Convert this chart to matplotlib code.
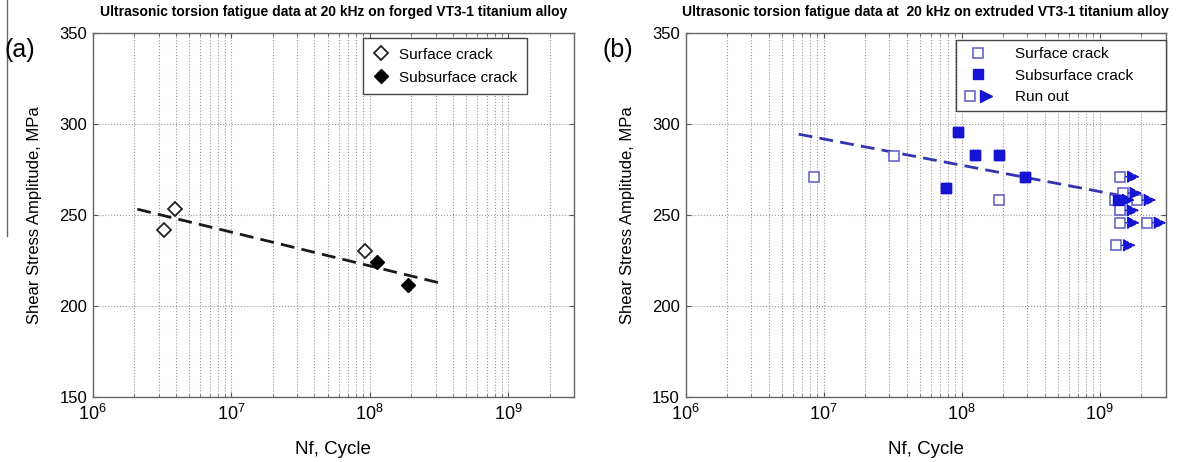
import matplotlib
matplotlib.use("Agg")
import matplotlib.pyplot as plt
from matplotlib.ticker import LogLocator, FixedLocator, NullFormatter
from matplotlib.lines import Line2D
from matplotlib.legend_handler import HandlerTuple

plt.rcParams['font.family'] = ['Liberation Sans', 'DejaVu Sans']
plt.rcParams['mathtext.default'] = 'regular'

# ---------------- data ----------------
# (a) forged
a_surface_N = [3.3e6, 3.95e6, 9.2e7]
a_surface_S = [241.5, 253.5, 230.0]
a_sub_N = [1.13e8, 1.91e8]
a_sub_S = [224.0, 211.5]
a_fit_N = [2.1e6, 3.16e8]
a_fit_S = [253.2, 212.8]

# (b) extruded
b_surface_N = [8.5e6, 3.23e7, 1.88e8]
b_surface_S = [271.0, 282.6, 258.2]
b_sub_N = [7.7e7, 9.4e7, 1.25e8, 1.86e8, 2.86e8, 1.35e9]
b_sub_S = [264.7, 295.8, 282.8, 282.8, 270.8, 258.2]
b_run_N = [1.41e9, 1.47e9, 1.30e9, 1.86e9, 1.40e9, 1.41e9, 2.2e9, 1.32e9]
b_run_S = [271.0, 262.0, 258.2, 258.2, 252.5, 245.7, 245.7, 233.3]
b_fit_N = [6.6e6, 1.35e9]
b_fit_S = [294.4, 261.0]

titles = ["Ultrasonic torsion fatigue data at 20 kHz on forged VT3-1 titanium alloy",
          "Ultrasonic torsion fatigue data at  20 kHz on extruded VT3-1 titanium alloy"]
xlabel = "Nf, Cycle"
ylabel = "Shear Stress Amplitude, MPa"
yticks = [150, 200, 250, 300, 350]

W, H = 1181, 462
fig = plt.figure(figsize=(W / 100, H / 100), dpi=100)

def px_axes(l, r, t, b):
    return [l / W, 1 - b / H, (r - l) / W, (b - t) / H]

axA = fig.add_axes(px_axes(92.7, 574, 33, 397))
axB = fig.add_axes(px_axes(685.5, 1165.5, 33, 397))

blue = '#1414d2'
blue_open = '#5a5ac8'
blue_line = '#3434b0'

def style(ax, title):
    ax.set_xscale('log')
    ax.set_xlim(1e6, 3e9)
    ax.set_ylim(150, 350)
    ax.yaxis.set_major_locator(FixedLocator(yticks))
    ax.xaxis.set_major_locator(LogLocator(base=10, numticks=10))
    ax.xaxis.set_minor_locator(LogLocator(base=10, subs=range(2, 10), numticks=30))
    ax.xaxis.set_minor_formatter(NullFormatter())
    ax.grid(True, which='both', axis='x', linestyle=':', color='#9a9a9a', linewidth=0.8)
    ax.grid(True, which='major', axis='y', linestyle=':', color='#9a9a9a', linewidth=0.8)
    ax.tick_params(which='both', direction='in', top=True, right=True, colors='#555555',
                   labelcolor='black', labelsize=12)
    ax.tick_params(axis='y', pad=4)
    ax.tick_params(axis='x', pad=5, labelsize=13)
    for s in ax.spines.values():
        s.set_color('#666666')
        s.set_linewidth(1.0)
    ax.set_title(title, fontsize=10, fontweight='bold',
                 family=['Liberation Sans Narrow', 'Liberation Sans'], pad=12)
    ax.set_xlabel(xlabel, fontsize=13.5)
    ax.set_ylabel(ylabel, fontsize=12)
    ax.xaxis.set_label_coords(0.5, -0.12)
    ax.yaxis.set_label_coords(-0.105, 0.5)

style(axA, titles[0])
style(axB, titles[1])

# ---- panel (a)
axA.plot(a_fit_N, a_fit_S, linestyle=(0, (5, 2.6)), color='#1a1a1a', linewidth=2.0)
hA1, = axA.plot(a_surface_N, a_surface_S, linestyle='none', marker='D', markersize=7,
                markerfacecolor='white', markeredgecolor='#222222', markeredgewidth=1.3,
                label='Surface crack')
hA2, = axA.plot(a_sub_N, a_sub_S, linestyle='none', marker='D', markersize=7,
                markerfacecolor='black', markeredgecolor='black', label='Subsurface crack')
legA = axA.legend(handles=[hA1, hA2], loc='upper left', bbox_to_anchor=(0.561, 0.985),
                  fontsize=11, frameon=True, fancybox=False, edgecolor='#444444',
                  framealpha=1, borderpad=0.6, handlelength=1.2, handletextpad=0.6,
                  labelspacing=0.6, borderaxespad=0)
legA.get_frame().set_linewidth(1.0)

# ---- panel (b)
axB.plot(b_fit_N, b_fit_S, linestyle=(0, (5, 2.6)), color=blue_line, linewidth=2.0)
hB1, = axB.plot(b_surface_N, b_surface_S, linestyle='none', marker='s', markersize=7,
                markerfacecolor='white', markeredgecolor=blue_open, markeredgewidth=1.1,
                label='Surface crack')
hB2, = axB.plot(b_sub_N, b_sub_S, linestyle='none', marker='s', markersize=7,
                markerfacecolor=blue, markeredgecolor=blue, label='Subsurface crack')
hB3, = axB.plot(b_run_N, b_run_S, linestyle='none', marker='s', markersize=7,
                markerfacecolor='white', markeredgecolor=blue_open, markeredgewidth=1.1,
                zorder=2.5)
for n, s in zip(b_run_N, b_run_S):
    axB.annotate('', xy=(n, s), xycoords='data', xytext=(14, 0), textcoords='offset points',
                 arrowprops=dict(arrowstyle='<|-,head_length=0.75,head_width=0.38',
                                 color=blue, lw=1.0, linestyle='--', shrinkA=0, shrinkB=4))
# filled markers drawn again on top of the run-out squares
axB.plot(b_sub_N, b_sub_S, linestyle='none', marker='s', markersize=7,
         markerfacecolor=blue, markeredgecolor=blue, zorder=3)

run_sq = Line2D([], [], linestyle='none', marker='s', markersize=7, markerfacecolor='white',
                markeredgecolor=blue_open, markeredgewidth=1.1)
run_ar = Line2D([], [], linestyle='none', marker='>', markersize=8, color=blue)
legB = axB.legend(handles=[hB1, hB2, (run_sq, run_ar)],
                  labels=['Surface crack', 'Subsurface crack', 'Run out'],
                  handler_map={tuple: HandlerTuple(ndivide=None, pad=0.0)},
                  loc='upper left', bbox_to_anchor=(0.5635, 0.78, 0.4365, 0.2),
                  mode='expand', fontsize=11,
                  frameon=True, fancybox=False, edgecolor='#444444', framealpha=1,
                  borderpad=0.45, handlelength=2.0, handletextpad=1.4, labelspacing=0.5,
                  borderaxespad=0)
legB.get_frame().set_linewidth(1.0)

# panel labels
fig.text(4 / W, 1 - 50 / H, '(a)', fontsize=18, ha='left', va='center')
fig.text(603 / W, 1 - 50 / H, '(b)', fontsize=18, ha='left', va='center')
# thin vertical rule at the left edge
fig.add_artist(Line2D([7 / W, 7 / W], [1, 1 - 236 / H], transform=fig.transFigure,
                      color='#666666', linewidth=1.0))

fig.savefig('out.png', dpi=100)
